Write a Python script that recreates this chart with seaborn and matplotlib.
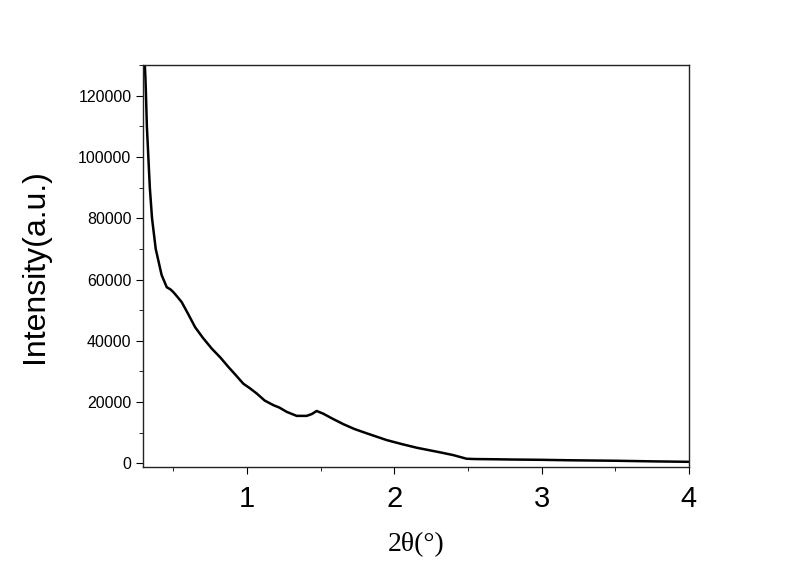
import numpy as np
import pandas as pd
import matplotlib
matplotlib.use("Agg")
import matplotlib.pyplot as plt
import seaborn as sns
from matplotlib.ticker import MultipleLocator

# values
two_theta = [0.305, 0.31, 0.314, 0.32, 0.33, 0.34, 0.355, 0.37, 0.38, 0.398, 0.42,
             0.455, 0.48, 0.50, 0.53, 0.557, 0.60, 0.647, 0.70, 0.760, 0.82, 0.873,
             0.92, 0.975, 1.02, 1.066, 1.12, 1.179, 1.22, 1.270, 1.337, 1.405,
             1.44, 1.473, 1.518, 1.58, 1.654, 1.73, 1.813, 1.948, 2.05, 2.152,
             2.310, 2.40, 2.491, 2.55, 2.65, 2.8, 3.0, 3.2, 3.5, 3.75, 4.0]
intensity = [131000, 126000, 120000, 110000, 100000, 90000, 80000, 74000, 70000,
             66200, 61500, 57500, 56800, 55900, 54200, 52600, 48800, 44500, 41000,
             37500, 34500, 31500, 29000, 26000, 24500, 22800, 20500, 19000, 18200,
             16800, 15500, 15500, 16100, 17100, 16200, 14600, 12800, 11200, 9800,
             7600, 6300, 5100, 3600, 2700, 1500, 1400, 1350, 1250, 1150, 1000,
             850, 650, 500]

df = pd.DataFrame({"two_theta": two_theta, "intensity": intensity})

sns.set_style("ticks")
plt.rcParams["font.family"] = ["Liberation Sans", "DejaVu Sans"]
plt.rcParams["text.color"] = "black"
plt.rcParams["axes.labelcolor"] = "black"
plt.rcParams["xtick.color"] = "black"
plt.rcParams["ytick.color"] = "black"

fig, ax = plt.subplots(figsize=(8, 5.62), dpi=100)
fig.subplots_adjust(left=0.179, right=0.861, top=0.884, bottom=0.169)

sns.lineplot(data=df, x="two_theta", y="intensity", color="black", linewidth=1.8, ax=ax)

ax.set_xlim(0.295, 4.0)
ax.set_ylim(-1200, 130000)
ax.xaxis.set_major_locator(MultipleLocator(1))
ax.xaxis.set_minor_locator(MultipleLocator(0.5))
ax.yaxis.set_major_locator(MultipleLocator(20000))
ax.yaxis.set_minor_locator(MultipleLocator(10000))

for side in ["top", "right", "bottom", "left"]:
    ax.spines[side].set_visible(True)
    ax.spines[side].set_linewidth(1.0)
    ax.spines[side].set_color("#222222")

ax.tick_params(axis="x", which="major", direction="out", length=5, labelsize=21, pad=8)
ax.tick_params(axis="x", which="minor", direction="out", length=3)
ax.tick_params(axis="y", which="major", direction="out", length=5, labelsize=11.5)
ax.tick_params(axis="y", which="minor", direction="out", length=3)

ax.set_xlabel("2θ(°)", fontsize=20, family=["Liberation Serif", "DejaVu Serif"], labelpad=14)
ax.set_ylabel("Intensity(a.u.)", fontsize=23, labelpad=20)

fig.savefig("out.png", dpi=100)
